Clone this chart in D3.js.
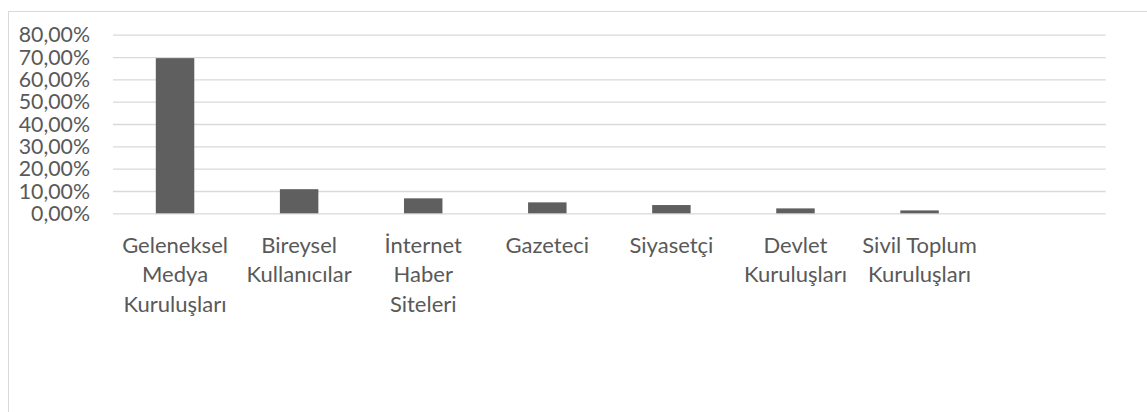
<!DOCTYPE html>
<html>
<head>
<meta charset="utf-8">
<script src="https://cdn.jsdelivr.net/npm/d3@7"></script>
<style>
  body { margin: 0; background: #fff; }
  svg { display: block; font-family: Lato, "Open Sans", sans-serif; }
</style>
</head>
<body>
<svg id="chart" width="1147" height="412"></svg>
<script>
var categories = [
  ['Geleneksel', 'Medya', 'Kuruluşları'],
  ['Bireysel', 'Kullanıcılar'],
  ['İnternet', 'Haber', 'Siteleri'],
  ['Gazeteci'],
  ['Siyasetçi'],
  ['Devlet', 'Kuruluşları'],
  ['Sivil Toplum', 'Kuruluşları'],
  ['']
];
var values = [69.5, 10.8, 6.7, 4.9, 3.7, 2.2, 1.3, null];
var yTicks = [0, 10, 20, 30, 40, 50, 60, 70, 80];

(function() {
  var svg = d3.select('#chart'),
      plotLeft = 113,
      plotRight = 1105.7,
      plotTop = 34.7,
      plotBottom = 213.3,
      fontSize = 22;

  // chart frame, open on the right and bottom like the source
  svg.append('rect')
    .attr('x', 8.5)
    .attr('y', 11.5)
    .attr('width', 1200)
    .attr('height', 500)
    .attr('fill', 'none')
    .attr('stroke', '#d9d9d9');

  var x = d3.scaleBand()
    .domain(d3.range(categories.length))
    .range([plotLeft, plotRight])
    .paddingInner(0.69)
    .paddingOuter(0.345);

  var y = d3.scaleLinear()
    .domain([0, 80])
    .range([plotBottom, plotTop]);

  var yAxis = d3.axisLeft(y)
    .tickValues(yTicks)
    .tickSize(-(plotRight - plotLeft))
    .tickPadding(23)
    .tickFormat(function(d) { return d.toFixed(2).replace('.', ',') + '%'; });

  var gy = svg.append('g')
    .attr('transform', 'translate(' + plotLeft + ',0)')
    .call(yAxis);

  gy.select('.domain').remove();
  gy.selectAll('.tick line')
    .attr('stroke', '#d9d9d9')
    .attr('stroke-width', 1.3);
  gy.selectAll('.tick text')
    .attr('fill', '#595959')
    .attr('font-family', 'Lato, "Open Sans", sans-serif')
    .attr('font-size', 21.3)
    .attr('dy', '0.34em');

  svg.append('g')
    .selectAll('rect')
    .data(values.map(function(v, i) { return {v: v, i: i}; })
      .filter(function(d) { return d.v !== null; }))
    .enter()
    .append('rect')
      .attr('x', function(d) { return x(d.i); })
      .attr('y', function(d) { return y(d.v); })
      .attr('width', x.bandwidth())
      .attr('height', function(d) { return plotBottom - y(d.v); })
      .attr('fill', '#5f5f5f');

  var labels = svg.append('g')
    .selectAll('text')
    .data(categories)
    .enter()
    .append('text')
      .attr('text-anchor', 'middle')
      .attr('fill', '#595959')
      .attr('font-size', fontSize)
      .attr('transform', function(d, i) {
        return 'translate(' + (x(i) + x.bandwidth() / 2) + ',253.3)';
      });

  labels.selectAll('tspan')
    .data(function(d) { return d; })
    .enter()
    .append('tspan')
      .attr('x', 0)
      .attr('y', function(d, i) { return i * 29.2; })
      .text(function(d) { return d; });
})();
</script>
</body>
</html>
